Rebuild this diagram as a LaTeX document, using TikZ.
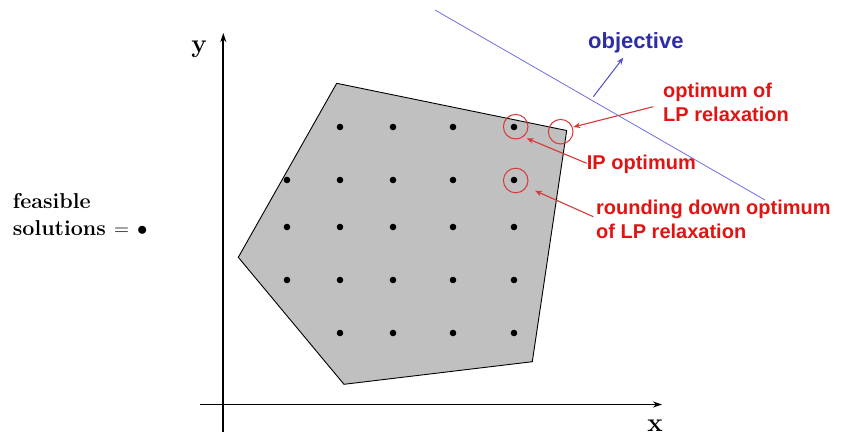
\documentclass[tikz,border=0pt]{standalone}
\usepackage{fontspec}
\newfontfamily\lsans{Liberation Sans}
\usetikzlibrary{arrows.meta}
\definecolor{polyfill}{RGB}{192,192,192}
\definecolor{objline}{RGB}{110,110,225}
\definecolor{objtext}{RGB}{45,45,165}
\definecolor{objarrow}{RGB}{75,75,200}
\definecolor{redtext}{RGB}{225,20,20}
\definecolor{redcirc}{RGB}{215,55,55}
\tikzset{
  dotpt/.style={fill=black,circle,inner sep=0pt,minimum size=6.6pt},
  ring/.style={draw=redcirc,circle,line width=1pt,inner sep=0pt,minimum size=24.6pt},
  redlabel/.style={text=redtext,font=\lsans\bfseries\fontsize{20}{24}\selectfont,anchor=base west,inner sep=0pt,align=left},
  redarrow/.style={draw=redcirc,line width=1.1pt,-{Stealth[length=7pt,width=5.5pt]}},
  axis/.style={line width=1.8pt,-{Stealth[length=9pt,width=6pt]}},
  axlabel/.style={font=\bfseries\fontsize{26}{30}\selectfont,inner sep=0pt,anchor=base},
}
\begin{document}
\begin{tikzpicture}[x=1pt,y=-1pt]
\useasboundingbox (0,0) rectangle (843,434);
% polygon
\draw[fill=polyfill,line width=0.9pt] (336.7,83.3) -- (566.7,130.5) -- (532.3,361.7) -- (344,384.3) -- (238.3,257.3) -- cycle;
% axes
\coordinate (ybot) at (223.3,432);
\coordinate (ytop) at (223.3,33);
\coordinate (xleft) at (200,404.5);
\coordinate (xright) at (662,404.5);
\draw[axis] (ybot) -- (ytop);
\draw[axis] (xleft) -- (xright);
\node[axlabel] (ylab) at (199,52) {y};
\node[axlabel] (xlab) at (655,431) {x};
% dots
\foreach \px in {340,393,453,514} \node[dotpt] at (\px,127) {};
\foreach \py in {180,227,280} {\foreach \px in {287,340,393,453,514} \node[dotpt] at (\px,\py) {};}
\foreach \px in {340,393,453,514} \node[dotpt] at (\px,333) {};
% objective
\coordinate (objA) at (435,10);
\coordinate (objB) at (765,200);
\draw[objline,line width=0.8pt] (objA) -- (objB);
\coordinate (oarrS) at (593.3,96.7);
\coordinate (oarrE) at (623.3,57.7);
\draw[objarrow,line width=1pt,-{Stealth[length=7pt,width=5.5pt]}] (oarrS) -- (oarrE);
\node[text=objtext,font=\lsans\bfseries\fontsize{22}{26}\selectfont,anchor=base west,inner sep=0pt] (objlab) at (588,48.3) {objective};
% circles
\node[ring] (ipc) at (515.7,126.7) {};
\node[ring] (lpc) at (560.7,131.7) {};
\node[ring] (rdc) at (515.7,180.5) {};
% labels (base anchor = last line's baseline)
\node[redlabel] (lplab) at (663,121.7) {optimum of\\LP relaxation};
\node[redlabel] (iplab) at (586.7,169.3) {IP optimum};
\node[redlabel] (rdlab) at (596,238.5) {rounding down optimum\\of LP relaxation};
% red arrows
\coordinate (lpS) at (653.3,106.7);
\coordinate (lpT) at (573.3,127);
\coordinate (ipS) at (586.7,163.3);
\coordinate (ipT) at (526.7,138.3);
\coordinate (rdS) at (593.3,216.7);
\coordinate (rdT) at (535,190.7);
\draw[redarrow] (lpS) -- (lpT);
\draw[redarrow] (ipS) -- (ipT);
\draw[redarrow] (rdS) -- (rdT);
% feasible solutions
\node[font=\bfseries\fontsize{21.5}{26.7}\selectfont,anchor=base west,inner sep=0pt,align=left] (feas) at (12.7,235) {feasible\\solutions $=$ $\bullet$};
\end{tikzpicture}
\end{document}
